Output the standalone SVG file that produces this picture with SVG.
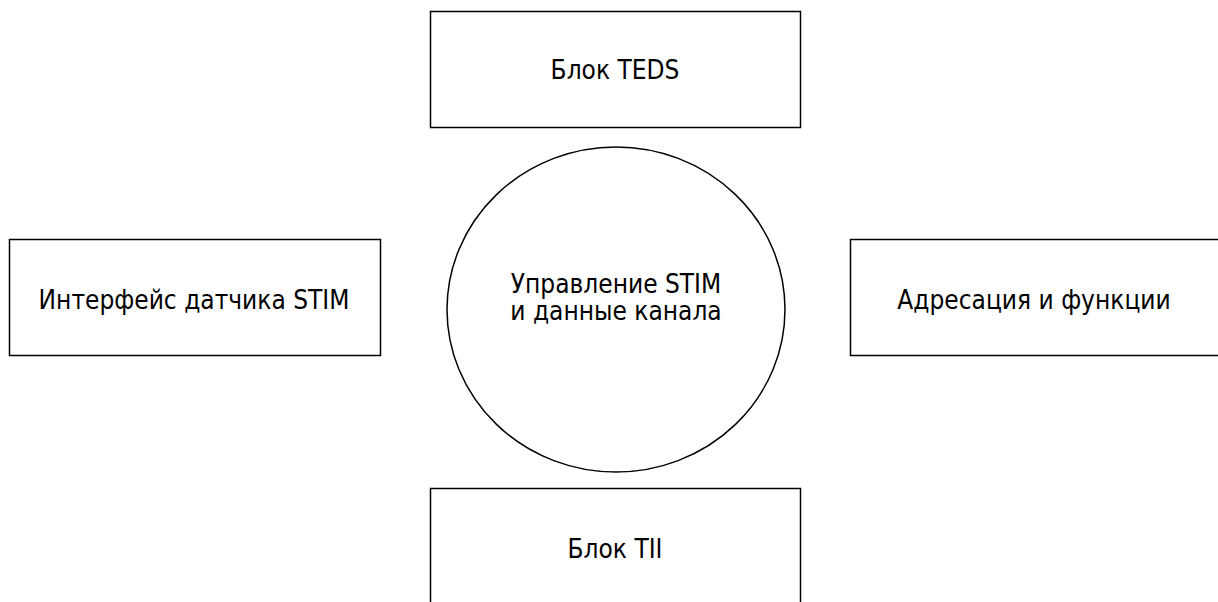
<svg xmlns="http://www.w3.org/2000/svg" width="1218" height="602" viewBox="0 0 1218 602">
<style>
.box{fill:#fff;stroke:#000;stroke-width:1.5}
.lbl{font-family:"DejaVu Sans Condensed","DejaVu Sans",sans-serif;font-stretch:condensed;font-size:26px;fill:#000;text-anchor:middle}
</style>
<rect width="1218" height="602" fill="#fff"/>
<g id="connectors"></g>
<g id="teds"><rect class="box" x="430.5" y="11.5" width="370" height="116"/><text class="lbl" x="615" y="79">Блок TEDS</text></g>
<g id="iface"><rect class="box" x="9.5" y="239.5" width="371" height="116"/><text class="lbl" x="194" y="309">Интерфейс датчика STIM</text></g>
<g id="addr"><rect class="box" x="850.5" y="239.5" width="380" height="116"/><text class="lbl" x="1034" y="309">Адресация и функции</text></g>
<g id="tii"><rect class="box" x="430.5" y="488.5" width="370" height="130"/><text class="lbl" x="615" y="558">Блок TII</text></g>
<g id="center"><ellipse class="box" cx="616" cy="309.5" rx="169" ry="162.5"/><text class="lbl" x="616" y="293">Управление STIM</text><text class="lbl" x="616" y="320">и данные канала</text></g>
</svg>
